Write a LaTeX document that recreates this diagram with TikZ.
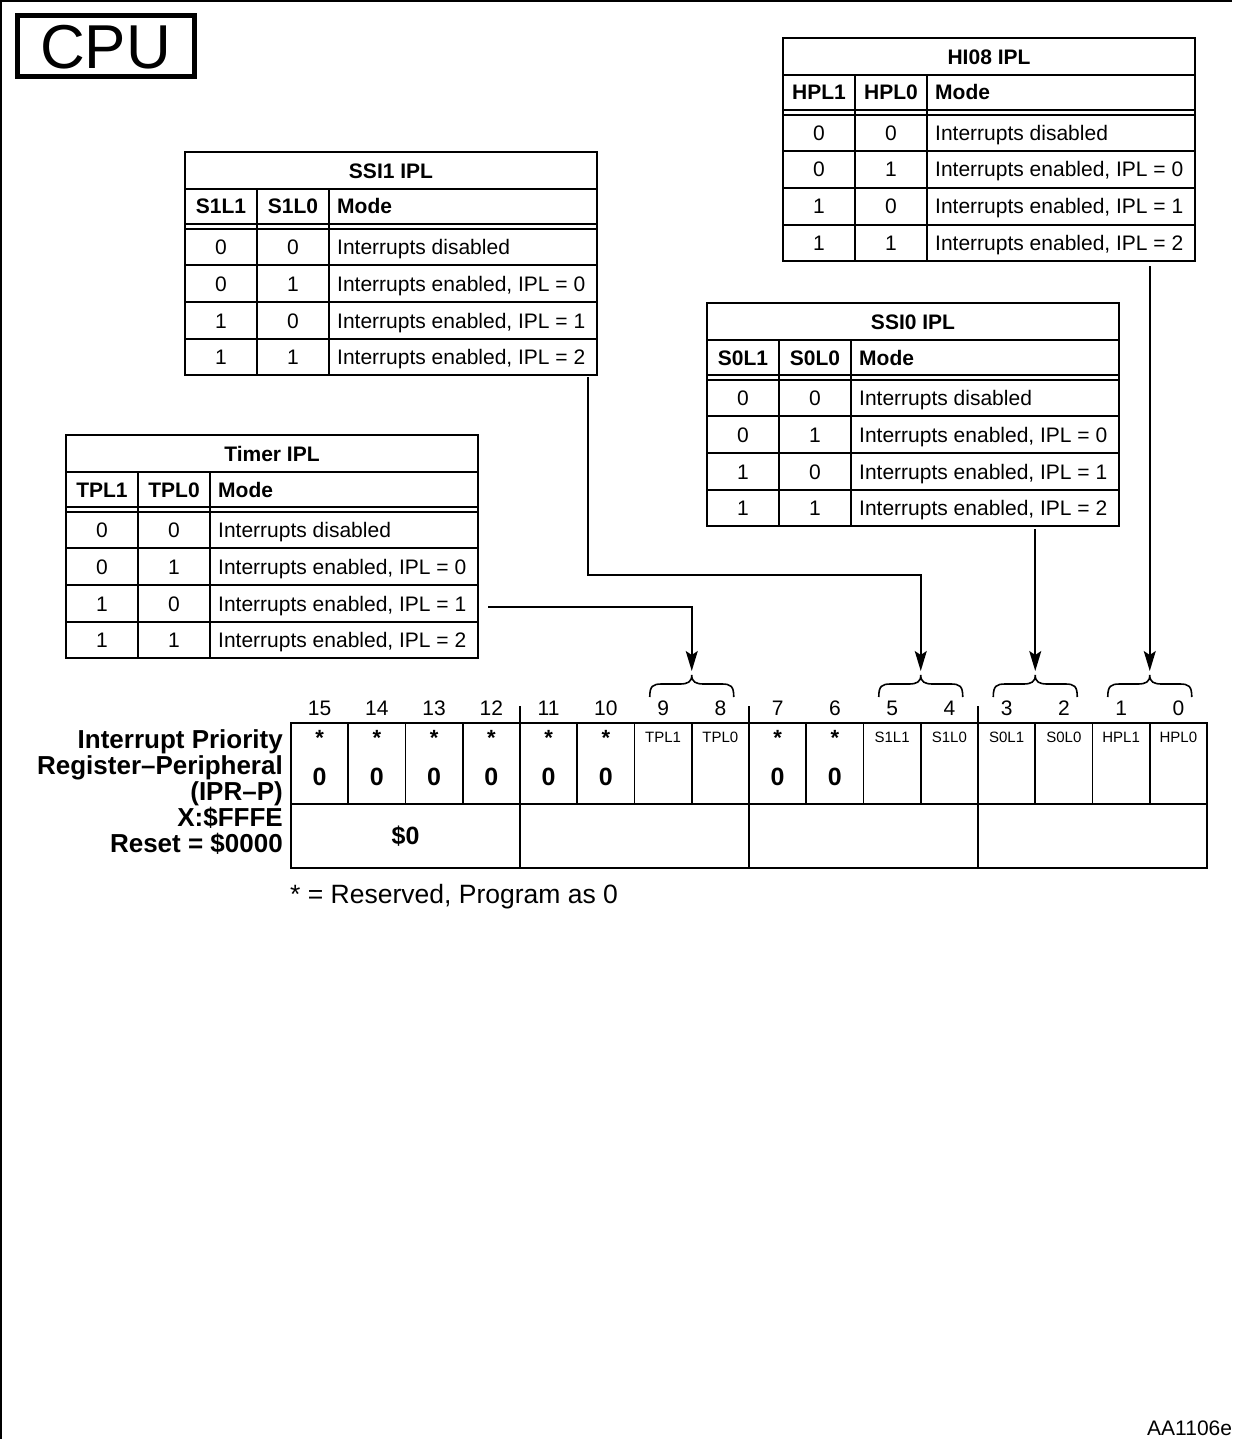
\documentclass[tikz,border=0pt]{standalone}
\usepackage{fontspec}
\setmainfont{Liberation Sans}
\usetikzlibrary{arrows.meta}
\tikzset{
  tbl/.style={line width=1.6pt},
  tt/.style={font=\fontsize{21}{25}\selectfont, inner sep=0pt, anchor=base},
  ttb/.style={font=\fontsize{21}{25}\selectfont\bfseries, inner sep=0pt, anchor=base},
  ttm/.style={font=\fontsize{21}{25}\selectfont, inner sep=0pt, anchor=base west},
  ttbm/.style={font=\fontsize{21}{25}\selectfont\bfseries, inner sep=0pt, anchor=base west},
  conn/.style={line width=1.6pt, -{Stealth[length=20pt,width=12pt,inset=4pt]}},
  bracepath/.style={line width=1.6pt},
  bitnum/.style={font=\fontsize{21}{24}\selectfont, inner sep=0pt, anchor=base},
  regstar/.style={font=\fontsize{22}{25}\selectfont\bfseries, inner sep=0pt, anchor=base},
  regzero/.style={font=\fontsize{25}{28}\selectfont\bfseries, inner sep=0pt, anchor=base},
  reglab/.style={font=\fontsize{15}{18}\selectfont, inner sep=0pt, anchor=base},
  bigl/.style={font=\fontsize{26}{27}\selectfont\bfseries, inner sep=0pt, anchor=base east},
  reg/.style={line width=1.8pt}
}
\newcommand\ipltable[6]{%
  \begin{scope}[shift={(#2,#3)}]
    \draw[tbl] (0,0) rectangle (412,223);
    \draw[tbl] (0,37) -- (412,37);
    \draw[tbl] (0,72) -- (412,72);
    \draw[tbl] (0,77) -- (412,77);
    \draw[tbl] (0,113) -- (412,113);
    \draw[tbl] (0,150) -- (412,150);
    \draw[tbl] (0,187) -- (412,187);
    \draw[tbl] (72,37) -- (72,223);
    \draw[tbl] (144,37) -- (144,223);
    \node[ttb] (#1-title) at (206,26.5) {#4};
    \node[ttb] (#1-h1) at (36,62) {#5};
    \node[ttb] (#1-h2) at (108,62) {#6};
    \node[ttbm] (#1-hm) at (152,62) {Mode};
    \node[tt] (#1-a1) at (36,102.5) {0};
    \node[tt] (#1-b1) at (108,102.5) {0};
    \node[ttm] (#1-m1) at (152,102.5) {Interrupts disabled};
    \node[tt] (#1-a2) at (36,139) {0};
    \node[tt] (#1-b2) at (108,139) {1};
    \node[ttm] (#1-m2) at (152,139) {Interrupts enabled, IPL = 0};
    \node[tt] (#1-a3) at (36,176) {1};
    \node[tt] (#1-b3) at (108,176) {0};
    \node[ttm] (#1-m3) at (152,176) {Interrupts enabled, IPL = 1};
    \node[tt] (#1-a4) at (36,212.5) {1};
    \node[tt] (#1-b4) at (108,212.5) {1};
    \node[ttm] (#1-m4) at (152,212.5) {Interrupts enabled, IPL = 2};
  \end{scope}}
\begin{document}
\begin{tikzpicture}[x=1pt,y=-1pt]
\useasboundingbox (0,0) rectangle (1232,1439);
% outer frame
\draw[line width=1.5pt] (1,1439) -- (1,1) -- (1232,1);
% CPU box
\draw[line width=5pt] (17,16) rectangle (194,77);
\node[font=\fontsize{62}{64}\selectfont, inner sep=0pt, anchor=base] (cpu) at (105.5,69) {CPU};
% tables
\ipltable{hi}{783}{38}{HI08 IPL}{HPL1}{HPL0}
\ipltable{sa}{185}{152}{SSI1 IPL}{S1L1}{S1L0}
\ipltable{sb}{707}{303}{SSI0 IPL}{S0L1}{S0L0}
\ipltable{tm}{66}{435}{Timer IPL}{TPL1}{TPL0}
% register
\draw[reg] (291,723) rectangle (1207,868);
\draw[reg] (291,804) -- (1207,804);
\foreach \i in {1,...,15} {\draw[reg] ({291+\i*57.25},723) -- ({291+\i*57.25},804);}
\foreach \xx in {520,749,978} {
  \draw[reg] (\xx,804) -- (\xx,868);
  \draw[reg] (\xx,706) -- (\xx,723);
}
\foreach \i in {0,...,15} {
  \pgfmathtruncatemacro\bn{15-\i}
  \node[bitnum] (bit\bn) at ({291+(\i+0.5)*57.25},715) {\bn};
}
\foreach \i in {0,1,2,3,4,5,8,9} {
  \pgfmathtruncatemacro\bn{15-\i}
  \node[regstar] (star\bn) at ({291+(\i+0.5)*57.25},745.5) {*};
  \node[regzero] (zero\bn) at ({291+(\i+0.5)*57.25},785.5) {0};
}
\foreach \i/\lab in {6/TPL1,7/TPL0,10/S1L1,11/S1L0,12/S0L1,13/S0L0,14/HPL1,15/HPL0} {
  \pgfmathtruncatemacro\bn{15-\i}
  \node[reglab] (lab\bn) at ({291+(\i+0.5)*57.25},742.5) {\lab};
}
\node[regzero] (reset) at (405.5,844) {\$0};
% register labels
\node[bigl] (l1) at (283,748) {Interrupt Priority};
\node[bigl] (l2) at (283,774) {Register–Peripheral};
\node[bigl] (l3) at (283,800) {(IPR–P)};
\node[bigl] (l4) at (283,826) {X:\$FFFE};
\node[bigl] (l5) at (283,852) {Reset = \$0000};
% braces
\foreach \cx in {691.75,920.75,1035.25,1149.75} {
  \draw[bracepath] ({\cx-42},697) .. controls ({\cx-42},686) and ({\cx-39},684) .. ({\cx-30},684)
    -- ({\cx-12},684) .. controls ({\cx-4},684) and (\cx,682) .. (\cx,675)
    .. controls (\cx,682) and ({\cx+4},684) .. ({\cx+12},684)
    -- ({\cx+30},684) .. controls ({\cx+39},684) and ({\cx+42},686) .. ({\cx+42},697);
}
\coordinate (b98) at (691.75,671);
\coordinate (b54) at (920.75,671);
\coordinate (b32) at (1035.25,671);
\coordinate (b10) at (1149.75,671);
% connectors
\coordinate (tm-out) at (488,607);
\coordinate (sa-out) at (588,377);
\coordinate (sa-bend) at (588,575);
\coordinate (sb-out) at (1035.25,529);
\coordinate (hi-out) at (1149.75,266);
\draw[conn] (tm-out) -- (tm-out -| b98) -- (b98);
\draw[conn] (sa-out) -- (sa-bend) -- (sa-bend -| b54) -- (b54);
\draw[conn] (sb-out) -- (b32);
\draw[conn] (hi-out) -- (b10);
% footnote
\node[font=\fontsize{26.5}{29}\selectfont, inner sep=0pt, anchor=base west] (foot) at (290,903) {* = Reserved, Program as 0};
\node[font=\fontsize{21}{24}\selectfont, inner sep=0pt, anchor=base west] (code) at (1147,1435) {AA1106e};
\end{tikzpicture}
\end{document}
